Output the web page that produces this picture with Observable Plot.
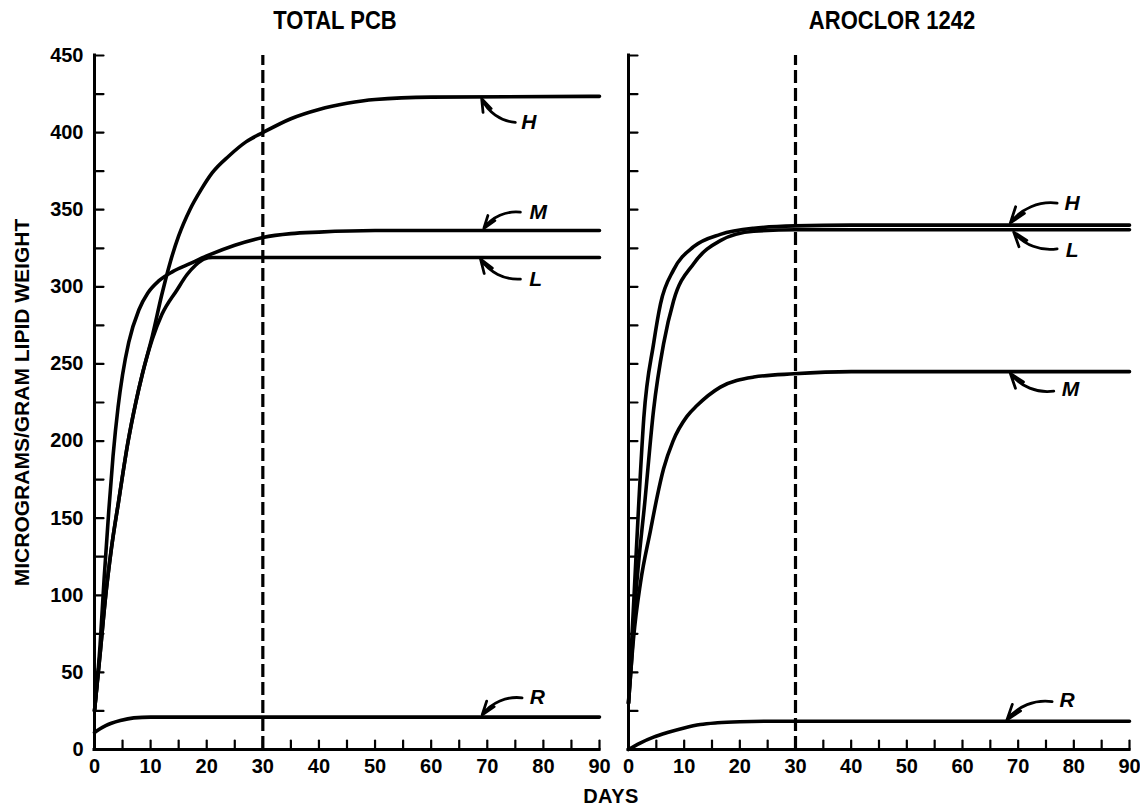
<!DOCTYPE html>
<html><head><meta charset="utf-8">
<script src="https://cdn.jsdelivr.net/npm/d3@7"></script>
<script src="https://cdn.jsdelivr.net/npm/@observablehq/plot@0.6"></script>
<style>
body{margin:0;background:#fff;}
#wrap{position:relative;width:1140px;height:808px;overflow:hidden;font-family:"Liberation Sans",Arial,Helvetica,sans-serif;font-weight:bold;color:#000;background:#fff;}
.title{position:absolute;top:6px;font-size:25px;white-space:nowrap;transform:translateX(-50%) scaleX(0.88);}
.days{position:absolute;top:785px;font-size:20px;white-space:nowrap;transform:translateX(-50%);letter-spacing:0.5px;}
#left,#right{position:absolute;top:0;}
</style></head><body><div id="wrap">
<div id="left"></div><div id="right"></div>
</div>
<script>
// ---- data ----
const panelTitles = ["TOTAL PCB", "AROCLOR 1242"];
const yAxisLabel = "MICROGRAMS/GRAM LIPID WEIGHT";
const xAxisLabel = "DAYS";
const xTickLabels = [0, 10, 20, 30, 40, 50, 60, 70, 80, 90];
const yTickLabels = [0, 50, 100, 150, 200, 250, 300, 350, 400, 450];
const xMinorTicks = [0, 5, 10, 15, 20, 25, 30, 35, 40, 45, 50, 55, 60, 65, 70, 75, 80, 85, 90];
const yMinorTicks = [0, 25, 50, 75, 100, 125, 150, 175, 200, 225, 250, 275, 300, 325, 350, 375, 400, 425, 450];
const xDomain = [0, 90];
const yDomain = [0, 450];
const markerDay = 30;

// TOTAL PCB panel: [day, micrograms/gram lipid]
const totalH = [[0,25],[1,62],[2,100],[3,130],[4.3,161],[6,200],[7.3,224],[8.5,243],[10.3,268],[12,295],[13.5,316],[15,333],[17,350],[19,363],[21,374],[24,385],[27,394],[30,400],[35,409],[40,415],[45,419],[50,421.5],[60,423],[90,423.5]];
const totalM = [[0,25],[1,68],[1.7,110],[2.55,155],[3.3,190],[4.2,222],[5,243],[6.1,264],[7.9,285],[9.5,296],[11.5,304],[14,310],[17,315],[20,320],[25,327],[30,332],[35,334.5],[40,335.5],[50,336.5],[90,336.5]];
const totalL = [[0,25],[1,62],[2,100],[3,130],[4.3,161],[6,200],[7.3,224],[8.5,243],[10.3,266],[12,282],[14.7,298],[16.5,308],[18,314],[19.5,318],[21,319],[90,319]];
const totalR = [[0,11],[1,13.5],[2,15.5],[3,17],[4.6,18.8],[7,20.5],[10,21],[90,21]];

// AROCLOR 1242 panel
const arocH = [[0,30],[0.4,58],[1,100],[1.85,160],[2.75,215],[4.5,263],[5.75,289],[8.1,311],[11.7,326],[16.5,334],[22.5,338],[30,339.5],[40,340],[90,340]];
const arocL = [[0,30],[0.5,55],[1.25,97],[3,163],[4.5,220],[6.3,263],[8.1,291],[11.7,315],[16.5,330],[22.5,336],[30,337],[90,337]];
const arocM = [[0,30],[0.9,72],[2.15,108],[3.95,142],[5.15,164],[6.3,182],[8,200],[10.5,216],[12.3,223],[16.5,235],[22.5,241.5],[29.7,243.6],[40,245],[90,245]];
const arocR = [[0,0],[2,4],[4.5,8],[7,11],[10,14],[12.9,16.2],[16,17.3],[20,18],[25,18.3],[90,18.3]];

// curve labels: letter, label position, arrow tail, arrow head, bend side
const totalLabels = [
  {t:"H", x:77.4, y:406.6, x1:75.0, y1:406.6, x2:69.0, y2:422.0, bend:1},
  {t:"M", x:79.1, y:348.4, x1:75.9, y1:348.4, x2:69.4, y2:338.0, bend:-1},
  {t:"L", x:78.6, y:305.0, x1:75.9, y1:305.0, x2:68.8, y2:318.0, bend:1},
  {t:"R", x:78.9, y:33.9,  x1:76.2, y1:33.5,  x2:69.1, y2:22.5,  bend:-1}
];
const arocLabels = [
  {t:"H", x:79.7, y:353.9, x1:77.0, y1:354.3, x2:68.6, y2:341.5, bend:-1},
  {t:"L", x:79.7, y:323.6, x1:77.0, y1:324.6, x2:69.2, y2:335.5, bend:1},
  {t:"M", x:79.4, y:233.9, x1:76.4, y1:232.4, x2:68.6, y2:243.8, bend:1},
  {t:"R", x:78.8, y:31.8,  x1:76.1, y1:31.1,  x2:68.0, y2:19.3,  bend:-1}
];

// ---- drawing ----
const tickUp = {draw(ctx, l){ ctx.moveTo(0,0); ctx.lineTo(0,-l); }};
const FONT = "Liberation Sans, Arial, Helvetica, sans-serif";

function panel(series, labels, opts) {
  const arrowOpts = {x1: "x1", y1: "y1", x2: "x2", y2: "y2", headLength: 12, headAngle: 38, strokeWidth: 2.8, stroke: "black"};
  const marks = [
    // axis lines
    Plot.ruleY([yDomain[0]], {x1: xDomain[0], x2: xDomain[1], strokeWidth: 3, strokeLinecap: "square"}),
    Plot.ruleX([xDomain[0]], {y1: yDomain[0], y2: yDomain[1], strokeWidth: 3, strokeLinecap: "square"}),
    // inward ticks
    Plot.vector(xMinorTicks, {x: d => d, y: yDomain[0], length: 9, rotate: 0, anchor: "start", shape: tickUp, strokeWidth: 2.2, stroke: "black"}),
    Plot.vector(yMinorTicks, {x: xDomain[0], y: d => d, length: 9, rotate: 90, anchor: "start", shape: tickUp, strokeWidth: 2.2, stroke: "black"}),
    // x tick labels
    Plot.axisX({ticks: xTickLabels, tickSize: 0, tickPadding: 9, label: null, fontSize: 20, fontWeight: "bold", tickFormat: d => String(d)}),
    // dashed marker
    Plot.ruleX([markerDay], {y1: yDomain[0], y2: yDomain[1], strokeWidth: 3.2, strokeDasharray: "13,5"}),
    // series
    ...series.map(s => Plot.line(s, {x: d => d[0], y: d => d[1], curve: "monotone-x", strokeWidth: 3.6, stroke: "black", strokeLinejoin: "round"})),
    // arrows and letters
    Plot.arrow(labels.filter(d => d.bend > 0), {...arrowOpts, bend: 30}),
    Plot.arrow(labels.filter(d => d.bend < 0), {...arrowOpts, bend: -30}),
    Plot.text(labels, {x: "x", y: "y", text: "t", fontSize: 21, fontWeight: "bold", fontStyle: "italic", textAnchor: "middle"})
  ];
  if (opts.yLabels) {
    marks.push(Plot.axisY({ticks: yTickLabels, tickSize: 0, tickPadding: 11, label: null, fontSize: 20, fontWeight: "bold", tickFormat: d => String(d)}));
    marks.push(Plot.text([yAxisLabel], {frameAnchor: "left", dx: -72, rotate: -90, fontSize: 21, fontWeight: "bold", textAnchor: "middle"}));
  } else {
    marks.push(Plot.axisY({ticks: [], tickSize: 0, label: null}));
  }
  return Plot.plot({
    width: opts.width, height: 808,
    marginLeft: opts.ml, marginRight: opts.mr, marginTop: 55, marginBottom: 59,
    x: {domain: xDomain},
    y: {domain: yDomain},
    style: {fontFamily: FONT, background: "transparent", overflow: "visible"},
    marks
  });
}

const left = panel([totalH, totalM, totalL, totalR], totalLabels, {width: 612, ml: 94, mr: 13, yLabels: true});
const right = panel([arocH, arocL, arocM, arocR], arocLabels, {width: 528, ml: 16, mr: 11, yLabels: false});
const L = document.getElementById("left"); L.style.left = "0px"; L.appendChild(left);
const R = document.getElementById("right"); R.style.left = "612px"; R.appendChild(right);

const wrap = document.getElementById("wrap");
const centers = [335, 892];
panelTitles.forEach((t, i) => {
  const d = document.createElement("div");
  d.className = "title"; d.textContent = t; d.style.left = centers[i] + "px";
  wrap.appendChild(d);
});
const days = document.createElement("div");
days.className = "days"; days.textContent = xAxisLabel; days.style.left = "611px";
wrap.appendChild(days);
</script>
</body></html>
